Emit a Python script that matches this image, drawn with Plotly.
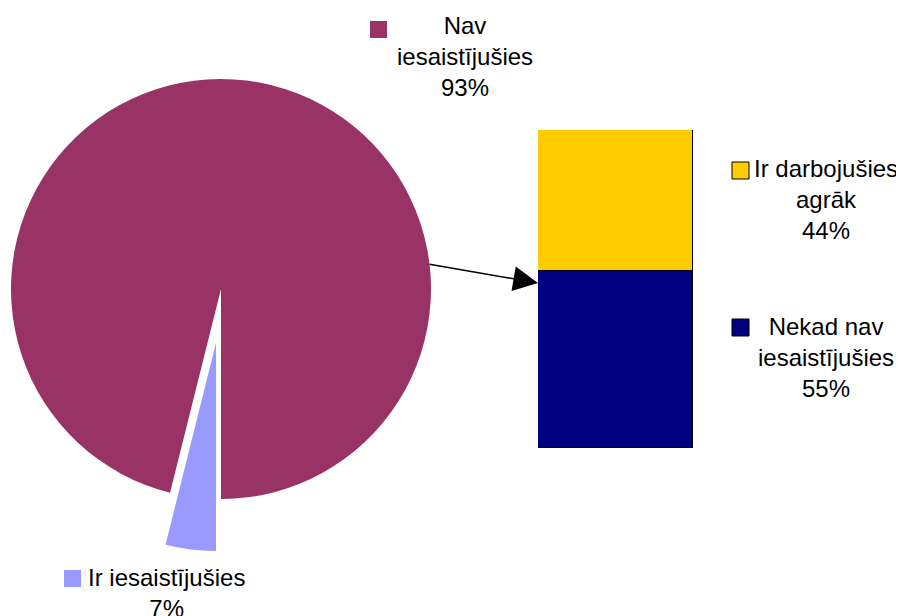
import plotly.graph_objects as go

# page body has an 8px margin, so the figure is 8px smaller and
# every reference coordinate is shifted by OFF
OFF = 8
W, H = 904 - OFF, 616 - OFF

# ---- data ----
pie_labels = ["Ir iesaistījušies", "Nav iesaistījušies"]
pie_percent = [7, 93]              # printed labels
pie_angle_share = [3.9, 96.1]      # slice sizes as drawn in the picture
pie_colors = ["#9999FF", "#993366"]

bar_labels = ["Nekad nav iesaistījušies", "Ir darbojušies agrāk"]
bar_percent = [55, 44]
bar_colors = ["#000080", "#FFCC00"]

label_text = {
    "Nav iesaistījušies": "Nav<br>iesaistījušies",
    "Ir iesaistījušies": "Ir iesaistījušies",
    "Ir darbojušies agrāk": "Ir darbojušies<br>agrāk",
    "Nekad nav iesaistījušies": "Nekad nav<br>iesaistījušies",
}


def px(x):
    return (x - OFF) / W


def py(y):
    return 1 - (y - OFF) / H


FONT = dict(family="Liberation Sans, Arial, sans-serif", size=24, color="black")
TRANSP = "rgba(0,0,0,0)"

fig = go.Figure()

# main pie (maroon part), centre (221,289), r=210 in screen pixels
cx, cy, r = 221, 289, 210
fig.add_trace(go.Pie(
    labels=pie_labels, values=pie_angle_share, sort=False,
    direction="clockwise", rotation=180,
    marker=dict(colors=[TRANSP, pie_colors[1]], line=dict(width=0)),
    textinfo="none", hoverinfo="label+percent",
    domain=dict(x=[px(cx - r), px(cx + r)], y=[py(cy + r), py(cy - r)]),
    showlegend=False,
))
# exploded slice (blue part), shifted along its bisector
bx, by, br = 216, 343, 208
fig.add_trace(go.Pie(
    labels=pie_labels, values=pie_angle_share, sort=False,
    direction="clockwise", rotation=180,
    marker=dict(colors=[pie_colors[0], TRANSP], line=dict(width=0)),
    textinfo="none", hoverinfo="label+percent",
    domain=dict(x=[px(bx - br), px(bx + br)], y=[py(by + br), py(by - br)]),
    showlegend=False,
))

# stacked bar
for lab, val, col in zip(bar_labels, bar_percent, bar_colors):
    fig.add_trace(go.Bar(
        x=[0], y=[val], name=lab, width=1,
        marker=dict(color=col, line=dict(color="black", width=1)),
        showlegend=False,
    ))

fig.update_layout(
    width=W, height=H, margin=dict(l=0, r=0, t=0, b=0),
    paper_bgcolor="white", plot_bgcolor="white",
    barmode="stack", bargap=0,
    xaxis=dict(domain=[px(538), px(693)], range=[-0.5, 0.5], visible=False, fixedrange=True),
    yaxis=dict(domain=[py(448), py(130)], range=[0, sum(bar_percent)], visible=False, fixedrange=True),
    font=FONT,
)

# labels with legend keys
label_specs = [
    ("Nav iesaistījušies", pie_percent[1], pie_colors[1], 465, 57, (370, 21), False),
    ("Ir iesaistījušies", pie_percent[0], pie_colors[0], 166, 593, (64, 570), False),
    ("Ir darbojušies agrāk", bar_percent[1], bar_colors[1], 826, 199, (732, 162), True),
    ("Nekad nav iesaistījušies", bar_percent[0], bar_colors[0], 826, 357, (732, 319), True),
]
shapes = []
annotations = []
for name, pct, col, tx, ty, (sx, sy), border in label_specs:
    annotations.append(dict(
        text=f"{label_text[name]}<br>{pct}%", x=px(tx), y=py(ty),
        xref="paper", yref="paper", xanchor="center", yanchor="middle",
        showarrow=False, align="center", font=FONT,
    ))
    shapes.append(dict(
        type="rect", xref="paper", yref="paper",
        x0=px(sx), x1=px(sx + 17), y0=py(sy + 17), y1=py(sy),
        fillcolor=col, line=dict(color="black" if border else col, width=1 if border else 0),
    ))

# connector arrow from pie to bar
annotations.append(dict(
    x=px(538), y=py(283), xref="paper", yref="paper",
    ax=-110, ay=-19, axref="pixel", ayref="pixel",
    text="", showarrow=True, arrowhead=2, arrowsize=3.3, arrowwidth=1.5,
    arrowcolor="black", standoff=0,
))

fig.update_layout(shapes=shapes, annotations=annotations)

fig.write_html("out.html")
